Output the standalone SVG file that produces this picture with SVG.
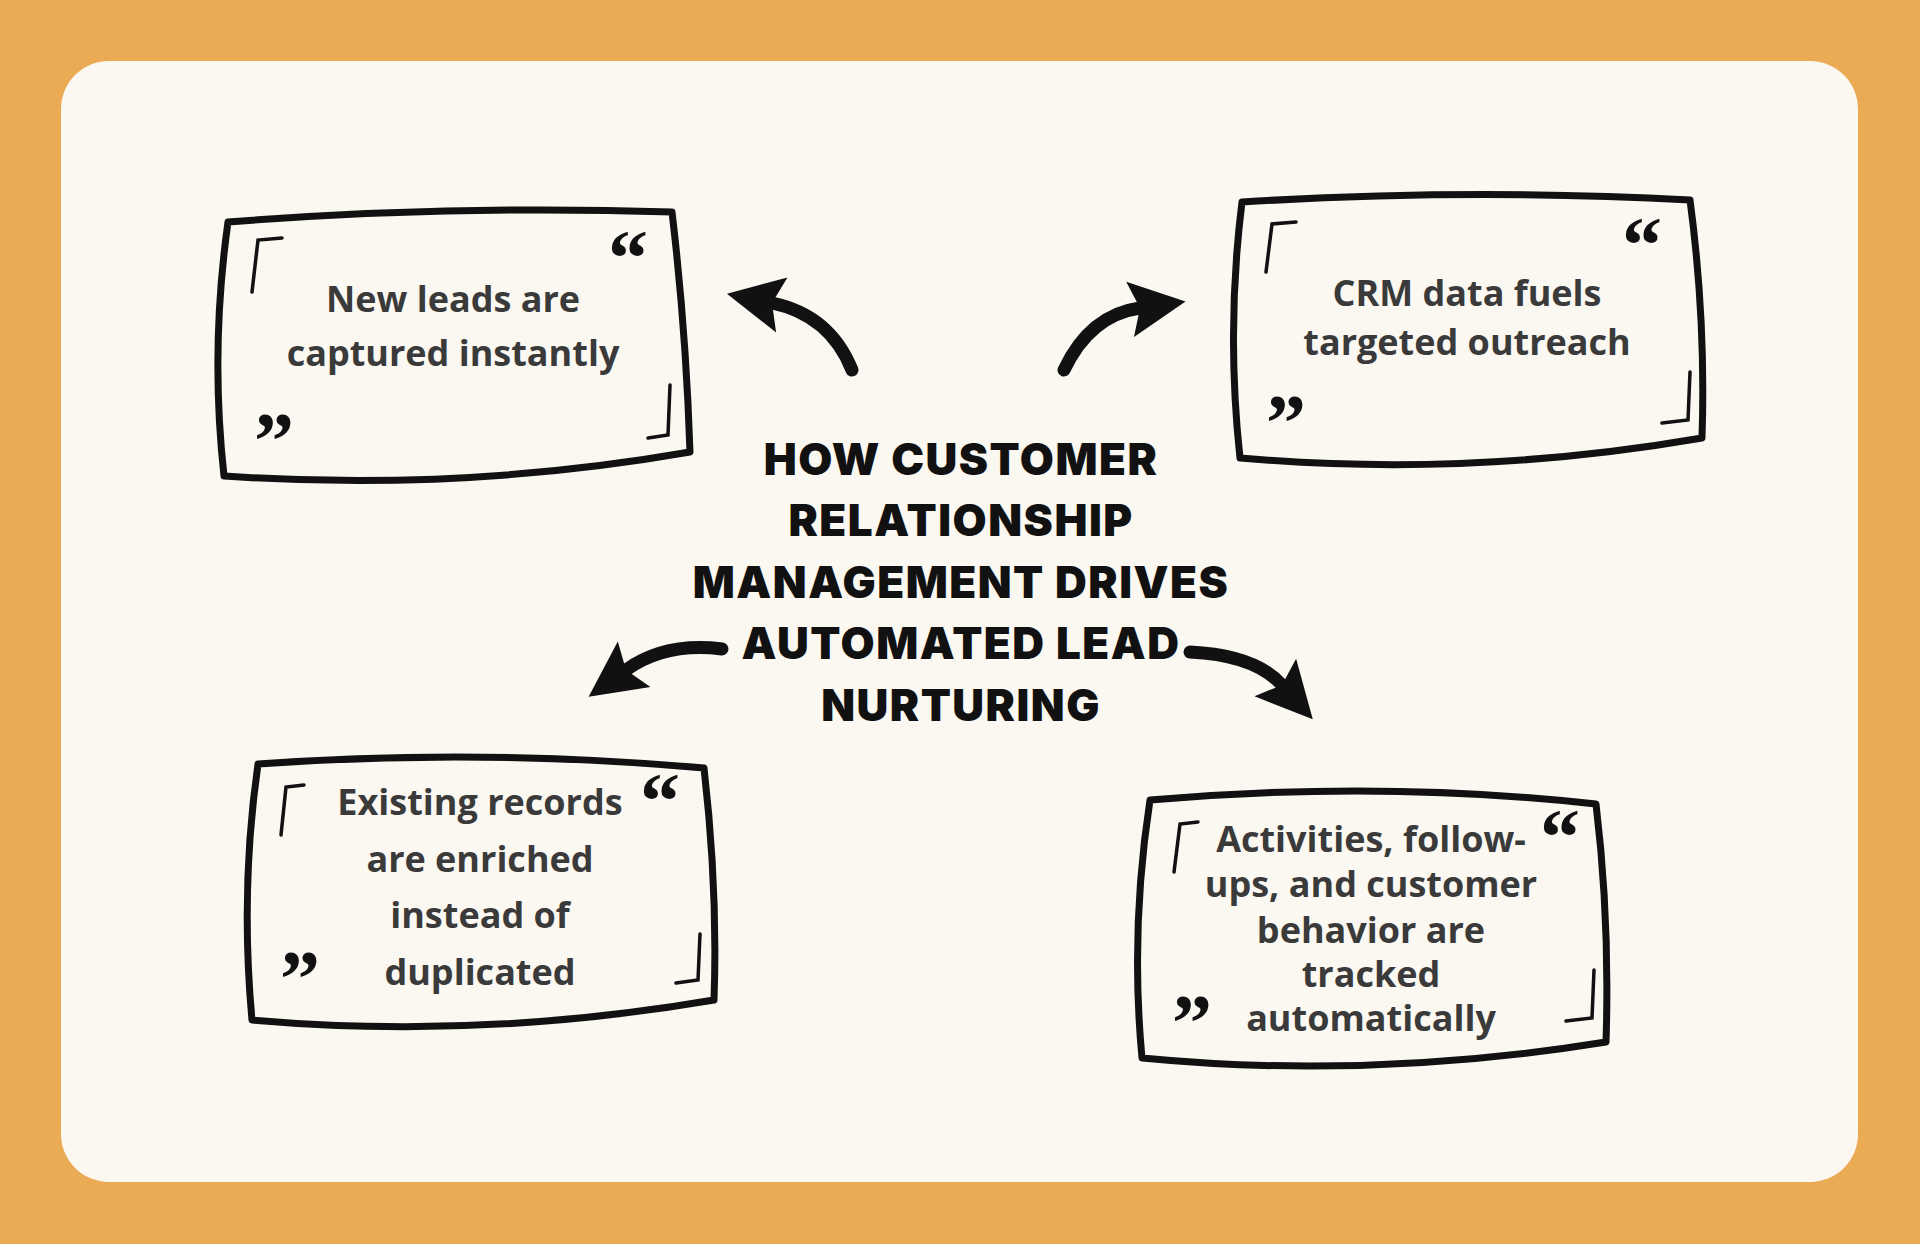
<svg xmlns="http://www.w3.org/2000/svg" width="1920" height="1244" viewBox="0 0 1920 1244">
<style>
.box{fill:none;stroke:#111;stroke-width:7;stroke-linejoin:round}
.brk{fill:none;stroke:#111;stroke-width:3.5;stroke-linecap:round}
.t{font-family:"Open Sans","Liberation Sans",sans-serif;font-weight:700;font-size:36px;fill:#3a3a3a;text-anchor:middle}
.q{font-family:"Liberation Serif",serif;font-weight:700;font-size:80px;fill:#111;text-anchor:middle}
.title{font-family:"Inter","Liberation Sans",sans-serif;font-weight:900;font-size:44px;fill:#111;text-anchor:middle;letter-spacing:1.5px}
.arr{fill:none;stroke:#111;stroke-width:13;stroke-linecap:round}
</style>
<defs>
<marker id="ah" markerUnits="userSpaceOnUse" markerWidth="64" markerHeight="64" refX="10" refY="32" orient="auto">
<path d="M0,4 L56,32 L0,60 L10,32 Z" fill="#111"/>
</marker>
</defs>
<rect width="1920" height="1244" fill="#EBAB55"/>
<rect x="61" y="61" width="1797" height="1121" rx="48" fill="#FBF7F1"/>

<g id="title">
<text class="title" x="961" y="475">HOW CUSTOMER</text>
<text class="title" x="961" y="536">RELATIONSHIP</text>
<text class="title" x="961" y="598">MANAGEMENT DRIVES</text>
<text class="title" x="961" y="659">AUTOMATED LEAD</text>
<text class="title" x="961" y="721">NURTURING</text>
</g>

<g id="node1">
<path class="box" d="M228,222 Q450,205 672,212 Q686,330 690,452 Q460,492 224,476 Q210,350 228,222 Z"/>
<path class="brk" d="M282,238 L258,240 L252,292"/>
<path class="brk" d="M670,385 L668,435 L648,438"/>
<text class="q" x="628" y="285">“</text>
<text class="q" x="274" y="468">”</text>
<text class="t" x="453" y="312">New leads are</text>
<text class="t" x="453" y="366">captured instantly</text>
</g>

<g id="node2">
<path class="box" d="M1242,202 Q1470,188 1690,200 Q1706,320 1702,438 Q1470,478 1240,458 Q1226,330 1242,202 Z"/>
<path class="brk" d="M1296,222 L1272,224 L1266,272"/>
<path class="brk" d="M1690,372 L1688,420 L1662,423"/>
<text class="q" x="1642" y="272">“</text>
<text class="q" x="1286" y="450">”</text>
<text class="t" x="1467" y="306">CRM data fuels</text>
<text class="t" x="1467" y="355">targeted outreach</text>
</g>

<g id="node3">
<path class="box" d="M258,764 Q480,748 704,768 Q718,890 714,1000 Q480,1040 252,1020 Q240,890 258,764 Z"/>
<path class="brk" d="M304,785 L286,787 L281,835"/>
<path class="brk" d="M700,934 L698,980 L676,983"/>
<text class="q" x="660" y="828">“</text>
<text class="q" x="300" y="1006">”</text>
<text class="t" x="480" y="815">Existing records</text>
<text class="t" x="480" y="872">are enriched</text>
<text class="t" x="480" y="928">instead of</text>
<text class="t" x="480" y="985">duplicated</text>
</g>

<g id="node4">
<path class="box" d="M1150,800 Q1380,780 1596,804 Q1610,920 1606,1042 Q1370,1080 1142,1058 Q1130,930 1150,800 Z"/>
<path class="brk" d="M1198,822 L1180,824 L1174,872"/>
<path class="brk" d="M1594,970 L1592,1018 L1566,1021"/>
<text class="q" x="1560" y="864">“</text>
<text class="q" x="1192" y="1050">”</text>
<text class="t" x="1371" y="852">Activities, follow-</text>
<text class="t" x="1371" y="897">ups, and customer</text>
<text class="t" x="1371" y="943">behavior are</text>
<text class="t" x="1371" y="987">tracked</text>
<text class="t" x="1371" y="1031">automatically</text>
</g>

<g id="connectors">
<path class="arr" d="M852,370 Q830,315 772,303" marker-end="url(#ah)"/>
<path class="arr" d="M1064,370 Q1090,315 1140,308" marker-end="url(#ah)"/>
<path class="arr" d="M722,649 Q665,642 626,670" marker-end="url(#ah)"/>
<path class="arr" d="M1190,652 Q1255,655 1282,685" marker-end="url(#ah)"/>
</g>
</svg>
